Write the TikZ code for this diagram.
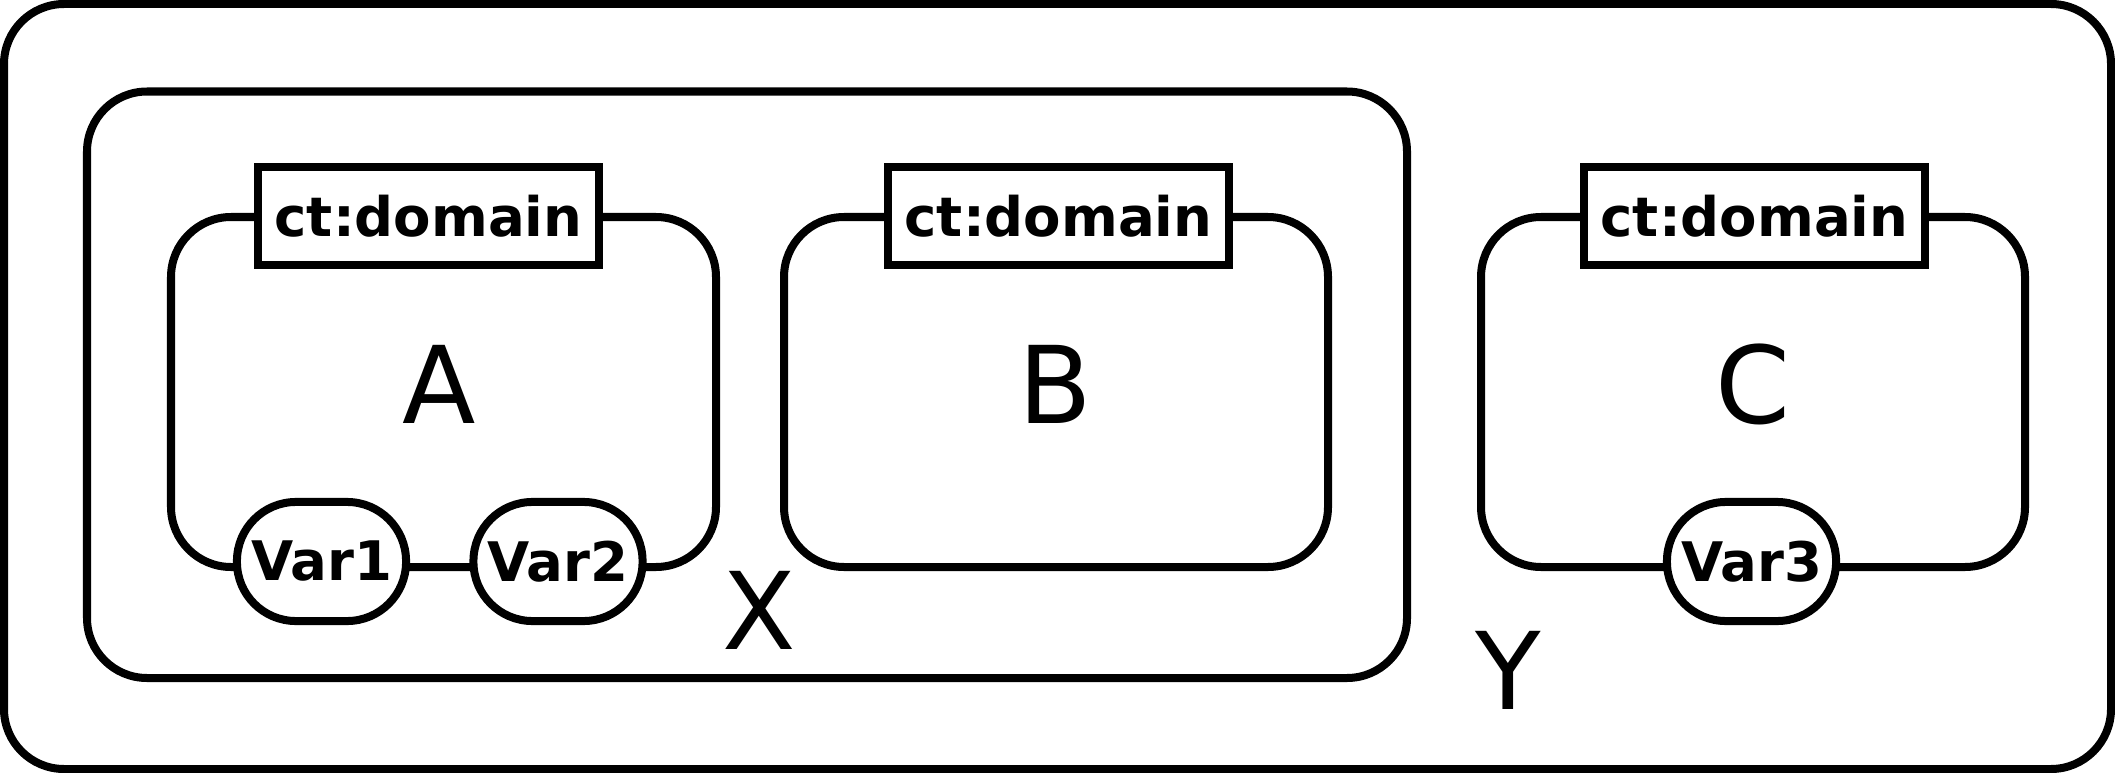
\documentclass[tikz,border=0pt]{standalone}
\usepackage{fontspec}
\setmainfont{DejaVu Sans}
\usetikzlibrary{positioning}

\tikzset{
  frame/.style={line width=0.08cm, rounded corners=0.6cm},
  tagbox/.style={draw, line width=0.08cm, fill=white, inner sep=0pt,
    minimum width=3.41cm, minimum height=0.98cm,
    font=\fontsize{15.5}{18}\selectfont\bfseries},
  varpill/.style={draw, line width=0.08cm, fill=white, inner sep=0pt,
    rounded corners=0.59cm, minimum width=1.69cm, minimum height=1.19cm,
    font=\fontsize{15.5}{18}\selectfont\bfseries},
  biglabel/.style={inner sep=0pt, font=\fontsize{30.5}{36}\selectfont}
}

\begin{document}
\begin{tikzpicture}[x=0.01cm, y=-0.01cm]
    \useasboundingbox (0,0) rectangle (2115,773);

    % =========================================================================
    % CADRES
    % =========================================================================

    % Y (cadre externe)
    \draw[frame] (4,4) rectangle (2111,769);

    % X
    \draw[frame] (87,91.5) rectangle (1407,678);

    % Domaines A, B, C
    \draw[frame] (171,217) rectangle (716,567);
    \draw[frame] (784,217) rectangle (1328,567);
    \draw[frame] (1481,217) rectangle (2025,567);

    % =========================================================================
    % ETIQUETTES ct:domain
    % =========================================================================
    \node[tagbox] (tagA) at (428.5,216) {ct:domain};
    \node[tagbox] (tagB) at (1058.5,216) {ct:domain};
    \node[tagbox] (tagC) at (1754.5,216) {ct:domain};

    % =========================================================================
    % VARIABLES
    % =========================================================================
    \node[varpill] (var1) at (321.5,561.5) {Var1};
    \node[varpill] (var2) at (558,561.5) {Var2};
    \node[varpill] (var3) at (1751.5,561.5) {Var3};

    % =========================================================================
    % LABELS
    % =========================================================================
    \node[biglabel] (labelA) at (439,384) {A};
    \node[biglabel] (labelB) at (1055,384) {B};
    \node[biglabel] (labelC) at (1753,384) {C};
    \node[biglabel] (labelX) at (759,610.5) {X};
    \node[biglabel] (labelY) at (1508.5,670.5) {Y};

\end{tikzpicture}
\end{document}
